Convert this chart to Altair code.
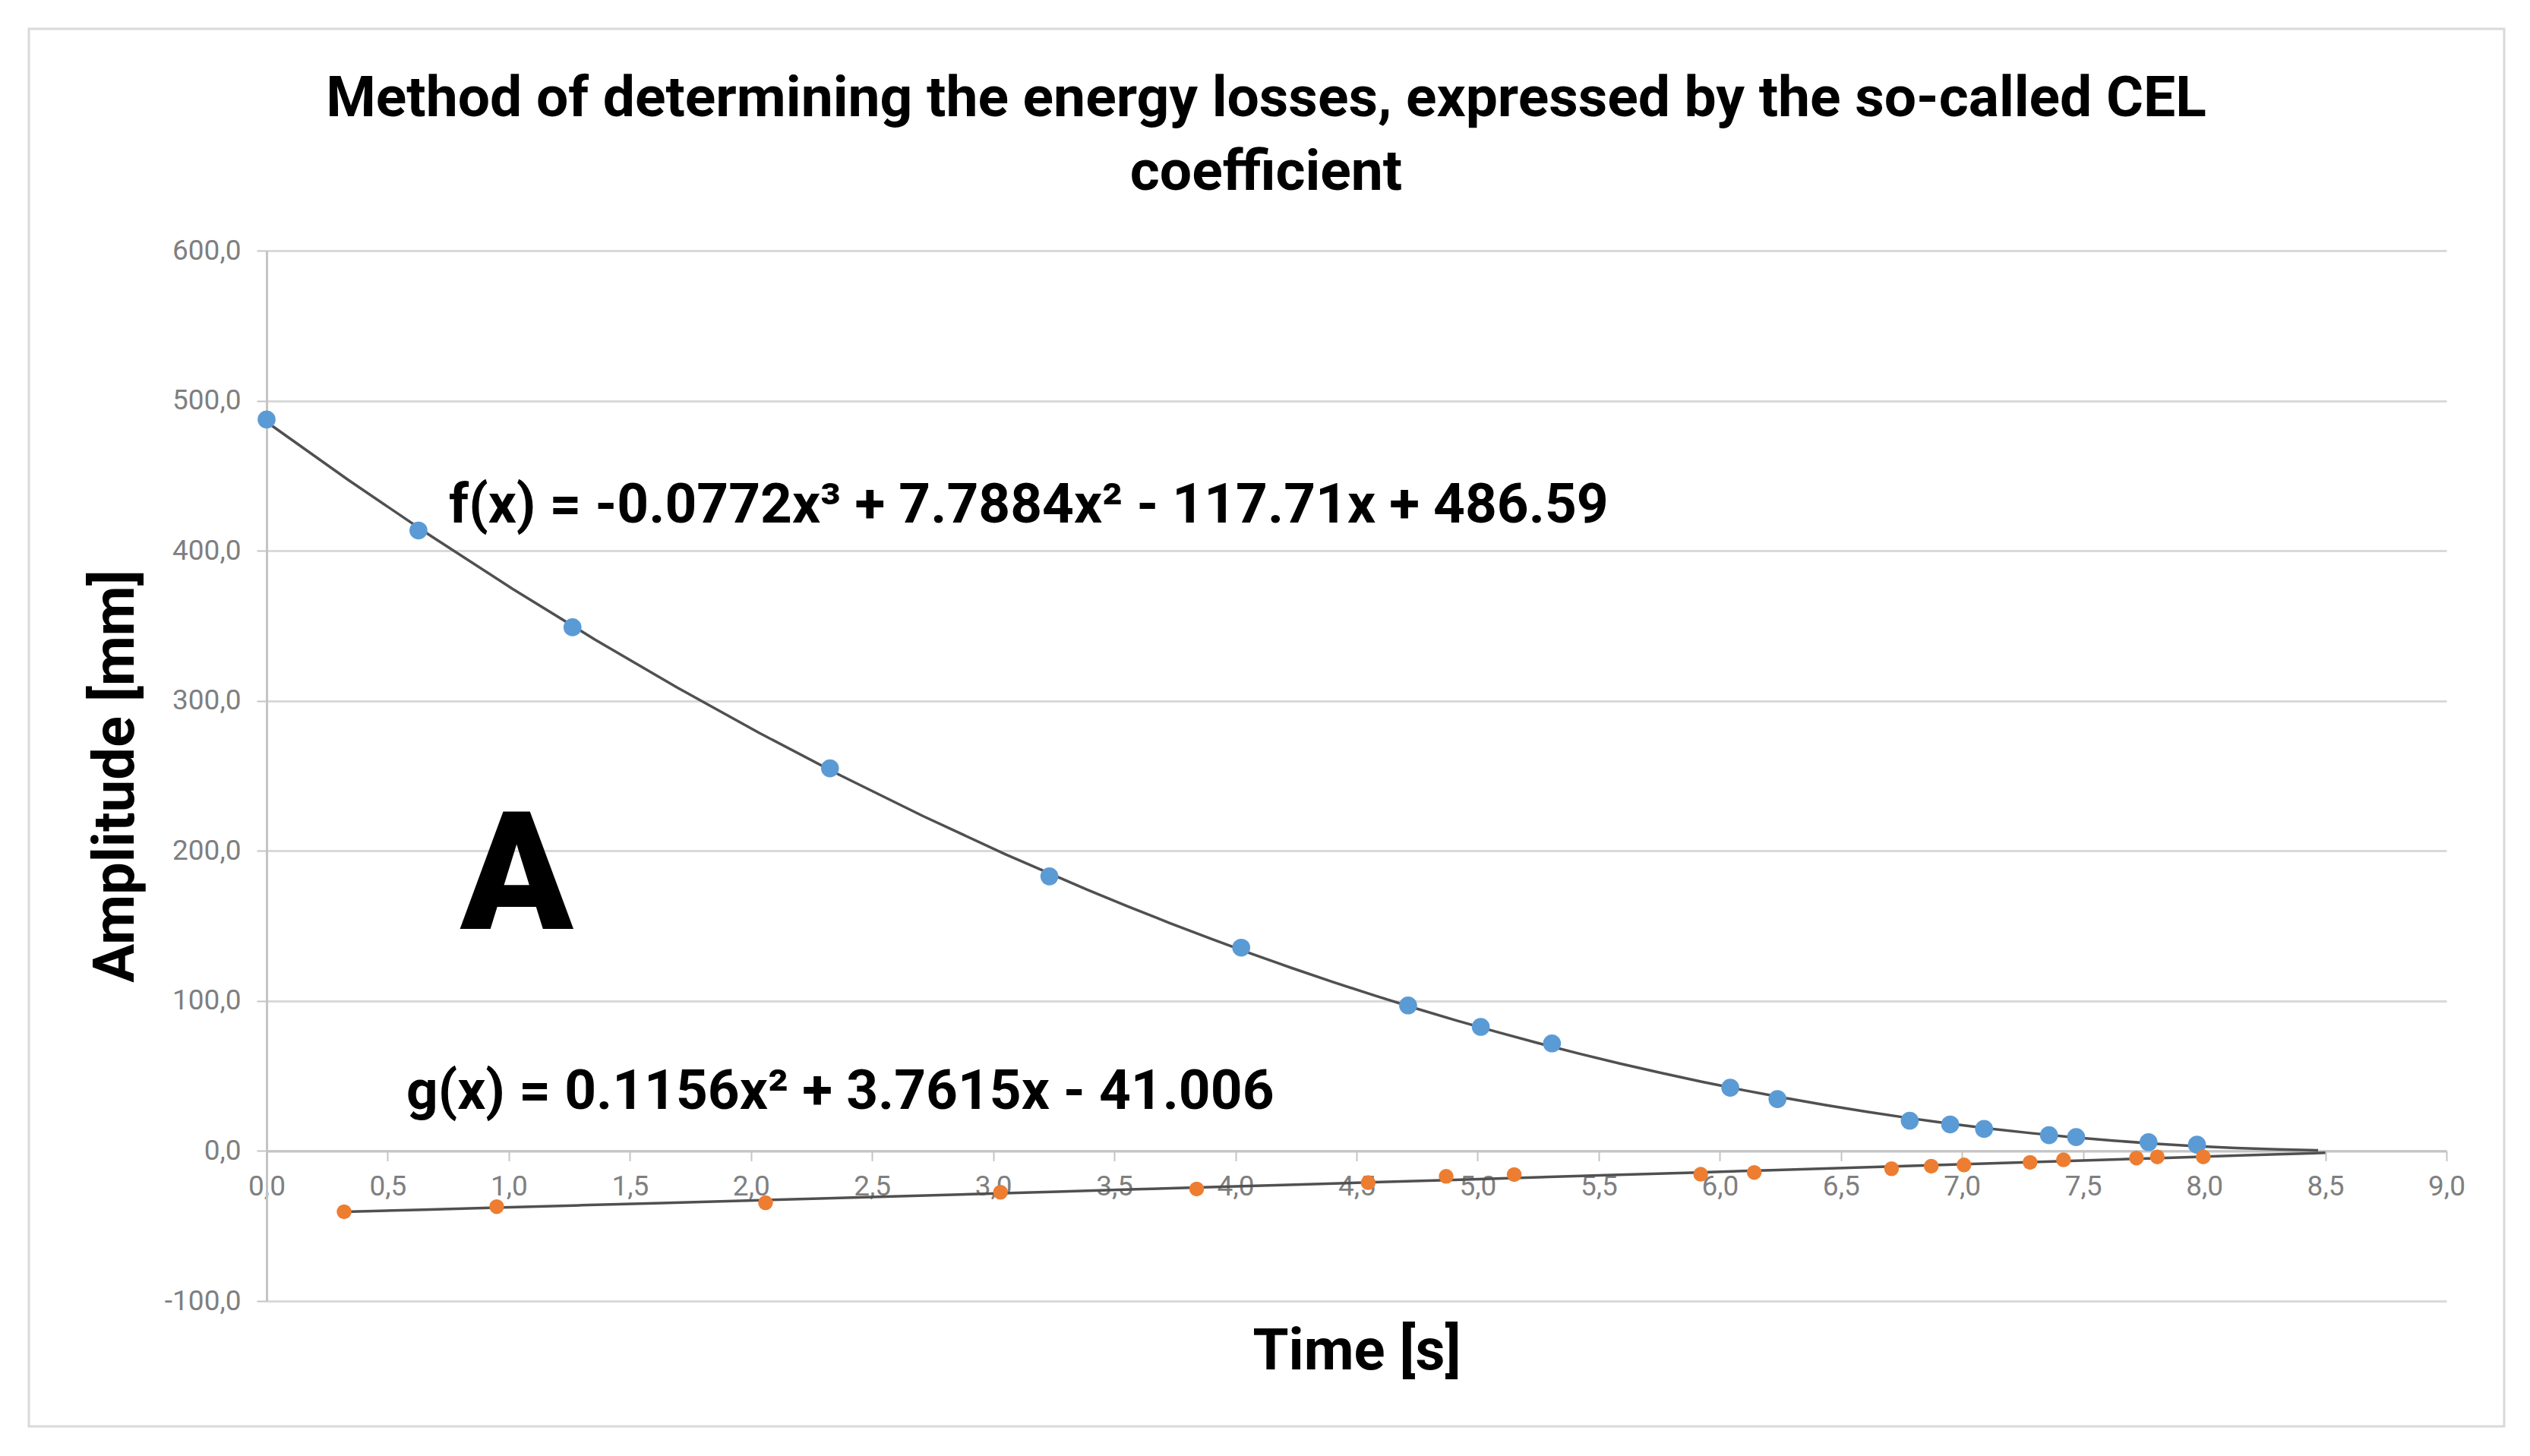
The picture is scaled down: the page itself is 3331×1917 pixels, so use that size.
import altair as alt
import pandas as pd

# --- data ---
blue_t = [0.0, 0.627, 1.263, 2.326, 3.232, 4.024, 4.713, 5.013, 5.307, 6.043,
          6.238, 6.784, 6.951, 7.091, 7.359, 7.471, 7.770, 7.970]
blue_a = [487.5, 413.5, 349.0, 255.0, 183.0, 135.5, 97.0, 82.7, 71.7, 42.2,
          34.6, 20.2, 17.7, 14.7, 10.5, 9.3, 5.9, 4.2]

orange_t = [0.320, 0.950, 2.060, 3.030, 3.840, 4.548, 4.870, 5.151, 5.921, 6.142,
            6.709, 6.873, 7.008, 7.281, 7.419, 7.720, 7.806, 7.996]
orange_a = [-40.5, -37.1, -34.5, -27.5, -25.3, -21.1, -16.9, -15.7, -15.5, -14.3,
            -11.8, -10.1, -9.3, -7.6, -5.9, -4.7, -3.9, -3.9]

x_ticks = [0.0, 0.5, 1.0, 1.5, 2.0, 2.5, 3.0, 3.5, 4.0, 4.5, 5.0, 5.5, 6.0, 6.5,
           7.0, 7.5, 8.0, 8.5, 9.0]
y_ticks = [-100, 0, 100, 200, 300, 400, 500, 600]

title_lines = ["Method of determining the energy losses, expressed by the so-called CEL",
               "coefficient"]
f_label = ["f(x) = -0.0772x\u00b3 + 7.7884x\u00b2 - 117.71x + 486.59"]
g_label = ["g(x) = 0.1156x\u00b2 + 3.7615x - 41.006"]
panel_label = ["A"]
x_title = "Time [s]"
y_title = "Amplitude [mm]"

W, H = 2870, 1383
FONT = "Roboto"
GRID = "#d9d9d9"
AXC = "#c4c4c4"
LABC = "#7f7f7f"

blue = pd.DataFrame({"t": blue_t, "a": blue_a})
orange = pd.DataFrame({"t": orange_t, "a": orange_a})

lbl_expr = "(datum.value < 0 ? '-' : '') + replace(format(abs(datum.value), '.1f'), '.', ',')"

x_enc = alt.X(
    "t:Q",
    scale=alt.Scale(domain=[0, 9], nice=False, zero=False),
    axis=alt.Axis(
        values=x_ticks, labelExpr=lbl_expr, grid=False, offset=-(H * 100 / 700),
        domainColor=AXC, domainWidth=3, tickColor=AXC, tickWidth=2, tickSize=13,
        labelFont=FONT, labelFontSize=37, labelColor=LABC, labelPadding=16,
        labelFlush=False, labelOverlap=False,
        title=x_title, titleFont=FONT, titleFontSize=76, titleFontWeight="bold",
        titleColor="black", titleX=W / 2, titleY=287, titleAlign="center",
        titleBaseline="alphabetic",
    ),
)
y_enc = alt.Y(
    "a:Q",
    scale=alt.Scale(domain=[-100, 600], nice=False, zero=False),
    axis=alt.Axis(
        values=y_ticks, labelExpr=lbl_expr, grid=True, gridColor=GRID, gridWidth=3,
        domainColor=AXC, domainWidth=3, tickColor=AXC, tickWidth=2, tickSize=13,
        labelFont=FONT, labelFontSize=37, labelColor=LABC, labelPadding=21,
        labelFlush=False, labelOverlap=False,
        title=y_title, titleFont=FONT, titleFontSize=76, titleFontWeight="bold",
        titleColor="black", titleX=-176, titleY=H / 2, titleAlign="center",
        titleBaseline="alphabetic", titleAngle=270,
    ),
)

one = pd.DataFrame({"k": [0]})

frame = alt.Chart(one).mark_rect(fillOpacity=0, stroke="#d9d9d9", strokeWidth=3).encode(
    x=alt.value(38 - 351), x2=alt.value(3297 - 351),
    y=alt.value(38 - 330), y2=alt.value(1878 - 330),
)

trend_f = alt.Chart(blue).transform_regression(
    "t", "a", method="poly", order=3, extent=[0, 8.47]
).mark_line(color="#505050", strokeWidth=3.5).encode(x=x_enc, y=y_enc)

trend_g = alt.Chart(orange).transform_regression(
    "t", "a", method="poly", order=2, extent=[0.32, 8.5]
).mark_line(color="#505050", strokeWidth=3.5).encode(x=x_enc, y=y_enc)

pts_b = alt.Chart(blue).mark_circle(color="#5b9bd5", opacity=1, size=560).encode(x=x_enc, y=y_enc)
pts_o = alt.Chart(orange).mark_circle(color="#ed7d31", opacity=1, size=380).encode(x=x_enc, y=y_enc)

title_txt = alt.Chart(one).mark_text(
    font=FONT, fontWeight="bold", fontSize=75, color="black", align="center",
    baseline="alphabetic", lineHeight=97,
).encode(x=alt.value(1667 - 351), y=alt.value(153 - 330), text=alt.value(title_lines))

f_txt = alt.Chart(pd.DataFrame({"label": f_label})).mark_text(
    font=FONT, fontWeight="bold", fontSize=73, color="black", align="left",
    baseline="alphabetic",
).encode(x=alt.value(591 - 351), y=alt.value(688 - 330), text="label:N")

g_txt = alt.Chart(pd.DataFrame({"label": g_label})).mark_text(
    font=FONT, fontWeight="bold", fontSize=73, color="black", align="left",
    baseline="alphabetic",
).encode(x=alt.value(535 - 351), y=alt.value(1460 - 330), text="label:N")

a_txt = alt.Chart(pd.DataFrame({"label": panel_label})).mark_text(
    font=FONT, fontWeight=900, fontSize=218, color="black", align="left",
    baseline="alphabetic",
).encode(x=alt.value(606 - 351), y=alt.value(1223 - 330), text="label:N")

chart = alt.layer(
    frame, trend_f, trend_g, pts_b, pts_o, title_txt, f_txt, g_txt, a_txt
).properties(
    width=W, height=H,
    autosize=alt.AutoSizeParams(type="none"),
    padding={"left": 343, "top": 322, "right": 80, "bottom": 176},
    background="white",
).configure_view(stroke=None)

chart.save("out.html", embed_options={"renderer": "svg", "actions": False})
